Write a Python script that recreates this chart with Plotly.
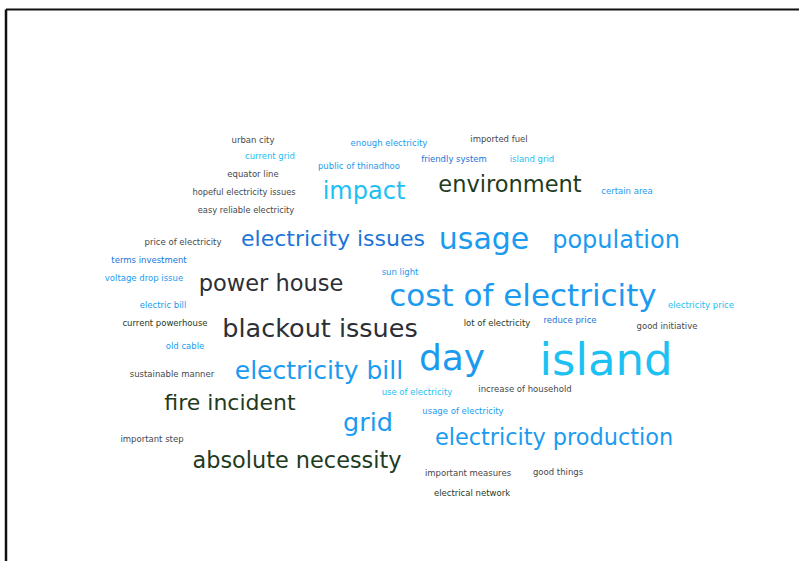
import plotly.graph_objects as go

# word cloud: words, their weight (rendered font size) and layout position
words = [
    "island", "cost of electricity", "day", "usage", "blackout issues",
    "grid", "electricity bill", "population", "impact", "environment",
    "power house", "electricity production", "absolute necessity",
    "electricity issues", "fire incident",
    "urban city", "imported fuel", "enough electricity", "current grid",
    "public of thinadhoo", "friendly system", "island grid", "equator line",
    "hopeful electricity issues", "certain area", "easy reliable electricity",
    "price of electricity", "terms investment", "voltage drop issue",
    "sun light", "electric bill", "electricity price", "current powerhouse",
    "lot of electricity", "reduce price", "good initiative", "old cable",
    "sustainable manner", "use of electricity", "increase of household",
    "usage of electricity", "important step", "important measures",
    "good things", "electrical network",
]
weights = [
    45, 31, 36, 30, 25.5,
    25.5, 25, 24, 24, 22.5,
    22.5, 22.4, 22.4,
    22, 22,
    8.5, 8.5, 8.5, 8.5,
    8.5, 8.5, 8.5, 8.5,
    8.3, 8.5, 8.3,
    8.5, 8.5, 8.5,
    8.5, 8.5, 8.5, 8.5,
    8.5, 8.5, 8.5, 8.5,
    8.5, 8.5, 8.5,
    8.5, 8.5, 8.5,
    8.5, 8.5,
]
word_x = [
    606, 523, 452, 484, 320,
    368, 319, 616, 364, 510,
    271, 554, 297,
    333, 230,
    253, 499, 389, 270,
    359, 454, 532, 253,
    244, 627, 246,
    183, 149, 144,
    400, 163, 701, 165,
    497, 570, 667, 185,
    172, 417, 525,
    463, 152, 468,
    558, 472,
]
word_y = [
    364, 298, 361, 241, 331,
    425, 373, 242, 193, 186,
    285, 439, 462,
    240, 404,
    141, 140, 144, 157,
    167, 160, 160, 175,
    193, 192, 211,
    243, 261, 279,
    273, 306, 306, 324,
    324, 321, 327, 347,
    375, 393, 390,
    412, 440, 474,
    473, 494,
]
# colour group per word
groups = [
    "cyan", "blue", "blue", "blue", "dark",
    "blue", "blue", "blue", "cyan", "green",
    "dark", "blue", "green",
    "deep", "green",
    "grey", "grey", "blue", "cyan",
    "blue", "deep", "cyan", "grey",
    "grey", "blue", "grey",
    "grey", "deep", "blue",
    "blue", "blue", "cyan", "green",
    "green", "deep", "grey", "blue",
    "grey", "cyan", "grey",
    "blue", "grey", "grey",
    "grey", "green",
]

PALETTE = {
    "cyan": "#1cc0f2",
    "blue": "#1b9bf0",
    "deep": "#1b74d8",
    "dark": "#2c3036",
    "green": "#1f3b22",
    "grey": "#45484d",
}

fig = go.Figure()

fig.add_trace(go.Scatter(
    x=word_x, y=word_y,
    mode="text",
    text=words,
    textposition="middle center",
    textfont=dict(
        family="DejaVu Sans",
        size=weights,
        color=[PALETTE[g] for g in groups],
    ),
    hoverinfo="skip",
    showlegend=False,
    cliponaxis=False,
))

# frame of the original slide (runs off the right and bottom edges)
fig.add_shape(type="line", x0=6, y0=9.5, x1=820, y1=9.5,
              line=dict(color="#111111", width=2))
fig.add_shape(type="line", x0=6, y0=9.5, x1=6, y1=600,
              line=dict(color="#111111", width=2.5))

fig.update_layout(
    width=799, height=561,
    margin=dict(l=0, r=0, t=0, b=0),
    plot_bgcolor="#FFFFFF",
    paper_bgcolor="#FFFFFF",
    xaxis=dict(range=[0, 799], visible=False, fixedrange=True),
    yaxis=dict(range=[561, 0], visible=False, fixedrange=True),
)

# drop the page's default body margin so the figure sits at the window origin
fig.write_html(
    "out.html",
    config={"displayModeBar": False},
    post_script="document.body.style.margin='0';document.body.style.overflow='hidden';",
)
